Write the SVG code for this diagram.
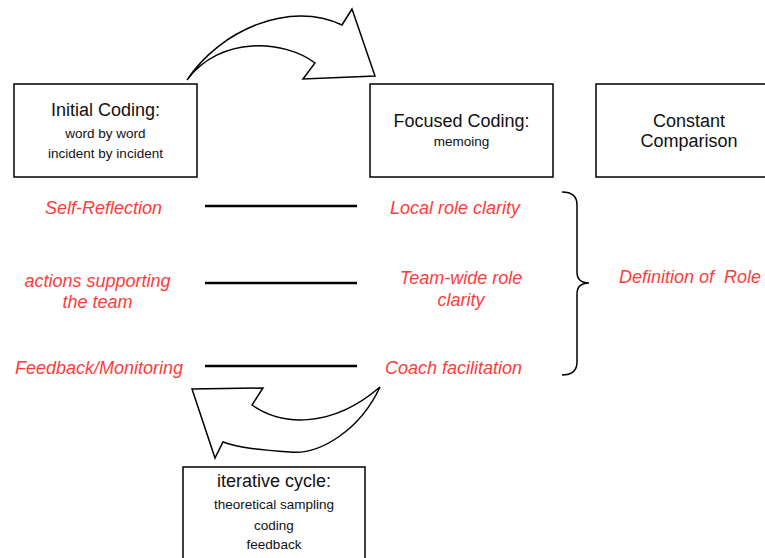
<svg xmlns="http://www.w3.org/2000/svg" width="765" height="558" viewBox="0 0 765 558">
<style>
.box{fill:#fff;stroke:#000;stroke-width:1.5}
.t{font-family:"Liberation Sans",Arial,sans-serif;fill:#111;text-anchor:middle}
.h{font-size:18px}
.s{font-size:13.5px}
.r{font-family:"Liberation Sans",Arial,sans-serif;font-style:italic;font-size:18px;fill:#ff3b3b;text-anchor:middle}
.ln{stroke:#000;stroke-width:2.5}
.arr{fill:#fff;stroke:#000;stroke-width:1.5;stroke-linejoin:miter}
</style>
<rect width="765" height="558" fill="#fff"/>
<g id="initial-coding">
<rect class="box" x="14" y="84" width="183" height="93"/>
<text class="t h" x="105.5" y="116">Initial Coding:</text>
<text class="t s" x="105.5" y="138">word by word</text>
<text class="t s" x="105.5" y="158">incident by incident</text>
</g>
<g id="focused-coding">
<rect class="box" x="370" y="84" width="183" height="93"/>
<text class="t h" x="461.5" y="127">Focused Coding:</text>
<text class="t s" x="461.5" y="146">memoing</text>
</g>
<g id="constant-comparison">
<rect class="box" x="596" y="84" width="183" height="93"/>
<text class="t h" x="689" y="127">Constant</text>
<text class="t h" x="689" y="147">Comparison</text>
</g>
<g id="iterative-cycle">
<rect class="box" x="183" y="467" width="182" height="93"/>
<text class="t h" x="274" y="487">iterative cycle:</text>
<text class="t s" x="274" y="509">theoretical sampling</text>
<text class="t s" x="274" y="530">coding</text>
<text class="t s" x="274" y="549">feedback</text>
</g>
<g id="self-reflection"><text class="r" x="103.5" y="214">Self-Reflection</text></g>
<g id="actions-supporting"><text class="r" x="97.5" y="287">actions supporting</text><text class="r" x="97.5" y="308">the team</text></g>
<g id="feedback-monitoring"><text class="r" x="99" y="374">Feedback/Monitoring</text></g>
<g id="local-role"><text class="r" x="455" y="214">Local role clarity</text></g>
<g id="team-wide-role"><text class="r" x="461" y="284">Team-wide role</text><text class="r" x="461" y="306">clarity</text></g>
<g id="coach-facilitation"><text class="r" x="453.5" y="374">Coach facilitation</text></g>
<g id="definition-role"><text class="r" x="690" y="283" xml:space="preserve">Definition of  Role</text></g>
<g id="connectors">
<line class="ln" x1="205" y1="206" x2="357" y2="206"/>
<line class="ln" x1="205" y1="283" x2="357" y2="283"/>
<line class="ln" x1="205" y1="366" x2="357" y2="366"/>
<path d="M562,192 Q577,192 577,205 L577,272 Q577,283 589,283 Q577,283 577,294 L577,362 Q577,375 562,375" fill="none" stroke="#000" stroke-width="1.5"/>
<path class="arr" d="M187,80 C220,30 290,0 342,25 L352,9 L375,76 L303,79 L315,63 C285,40 220,35 187,80 Z"/>
<path class="arr" d="M380,387 C360,430 320,455 290,452 C260,450 240,448 223,442 L215,458 L192,389 L263,388 L252,405 C280,425 330,430 380,387 Z"/>
</g>
</svg>
